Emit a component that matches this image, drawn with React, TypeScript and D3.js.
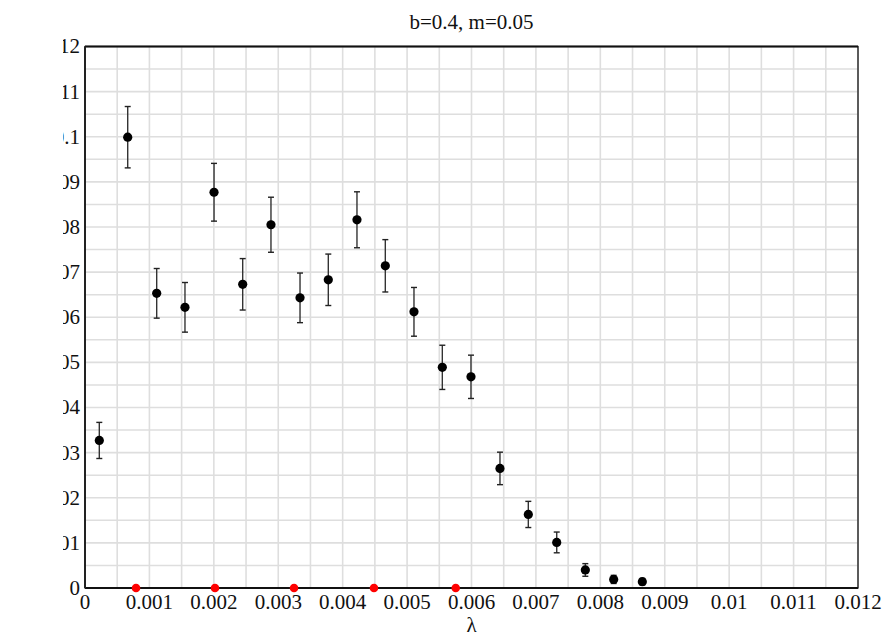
import React from "react";
import * as d3 from "d3";

const lambdaValues = [
  0.000222, 0.000663, 0.001113, 0.001552, 0.002003, 0.002448, 0.002887, 0.003338, 0.003777, 0.004222,
  0.004662, 0.005107, 0.005547, 0.005992, 0.006442, 0.006882, 0.007323, 0.007767, 0.008207, 0.008652,
];
const meanValues = [
  0.0327, 0.0999, 0.0653, 0.0622, 0.0877, 0.0673, 0.0805, 0.0643, 0.0683, 0.0816,
  0.0714, 0.0612, 0.0489, 0.0468, 0.0265, 0.0163, 0.0101, 0.004, 0.0019, 0.0014,
];
const errorValues = [
  0.004, 0.0068, 0.0055, 0.0055, 0.0064, 0.0057, 0.0061, 0.0055, 0.0057, 0.0062,
  0.0058, 0.0054, 0.0049, 0.0048, 0.0036, 0.0029, 0.0023, 0.0014, 0.0009, 0.0007,
];
const redLambda = [0.000792, 0.002018, 0.003245, 0.004486, 0.005755];
const xTickValues = [0, 0.001, 0.002, 0.003, 0.004, 0.005, 0.006, 0.007, 0.008, 0.009, 0.01, 0.011, 0.012];
const yTickValues = [0, 0.01, 0.02, 0.03, 0.04, 0.05, 0.06, 0.07, 0.08, 0.09, 0.1, 0.11, 0.12];
const title = "b=0.4, m=0.05";
const xLabel = "λ";

const W = 890;
const H = 637;
const L = 85;
const R = 858;
const T = 46.5;
const B = 588;
const FONT = "Liberation Serif, Times New Roman, serif";

export default function App() {
  const x = d3.scaleLinear().domain([0, 0.012]).range([L, R]);
  const y = d3.scaleLinear().domain([0, 0.12]).range([B, T]);
  const xGrid = d3.range(0, 24.5).map((i) => i * 0.0005);
  const yGrid = d3.range(0, 24.5).map((i) => i * 0.005);
  const fmt = (v: number) => (v === 0 ? "0" : String(+v.toFixed(4)));

  return (
    <div style={{ position: "absolute", left: 0, top: 0 }}>
      <svg width={W} height={H} style={{ display: "block", background: "#fff" }}>
        <defs>
          <clipPath id="ylab">
            <rect x={63} y={0} width={30} height={H} />
          </clipPath>
        </defs>
        <g>
          {xGrid.map((v, i) => (
            <line key={"gx" + i} x1={x(v)} x2={x(v)} y1={T} y2={B} stroke="#dedede" strokeWidth={1.6} />
          ))}
          {yGrid.map((v, i) => (
            <line key={"gy" + i} x1={L} x2={R} y1={y(v)} y2={y(v)} stroke="#dedede" strokeWidth={1.6} />
          ))}
        </g>
        <rect x={L} y={T} width={R - L} height={B - T} fill="none" stroke="#000" strokeWidth={1.2} />
        <line x1={L} x2={R} y1={T} y2={T} stroke="#111" strokeWidth={2} />
        <line x1={L} x2={R} y1={B} y2={B} stroke="#111" strokeWidth={2} />
        <line x1={L} x2={L} y1={T} y2={B} stroke="#222" strokeWidth={2} />
        <g style={{ fontFamily: FONT }} fontSize={21} fill="#111">
          {xTickValues.map((v, i) => (
            <text key={"xt" + i} x={x(v)} y={609} textAnchor="middle">
              {fmt(v)}
            </text>
          ))}
          <g clipPath="url(#ylab)">
            {yTickValues.map((v, i) => (
              <text key={"yt" + i} x={80} y={y(v)} dy="0.33em" textAnchor="end">
                {fmt(v)}
              </text>
            ))}
          </g>
          <text x={(L + R) / 2} y={29} textAnchor="middle" fontSize={21}>
            {title}
          </text>
          <text x={(L + R) / 2} y={632} textAnchor="middle" fontSize={21}>
            {xLabel}
          </text>
        </g>
        <g>
          {lambdaValues.map((lv, i) => {
            const cx = x(lv);
            const top = y(meanValues[i] + errorValues[i]);
            const bot = y(meanValues[i] - errorValues[i]);
            return (
              <g key={"pt" + i}>
                <line x1={cx} x2={cx} y1={top} y2={bot} stroke="#333" strokeWidth={1.4} />
                <line x1={cx - 3} x2={cx + 3} y1={top} y2={top} stroke="#222" strokeWidth={1.4} />
                <line x1={cx - 3} x2={cx + 3} y1={bot} y2={bot} stroke="#222" strokeWidth={1.4} />
                <circle cx={cx} cy={y(meanValues[i])} r={4.6} fill="#000" />
              </g>
            );
          })}
          {redLambda.map((lv, i) => (
            <circle key={"red" + i} cx={x(lv)} cy={y(0)} r={4.3} fill="#ff0000" />
          ))}
        </g>
      </svg>
    </div>
  );
}
